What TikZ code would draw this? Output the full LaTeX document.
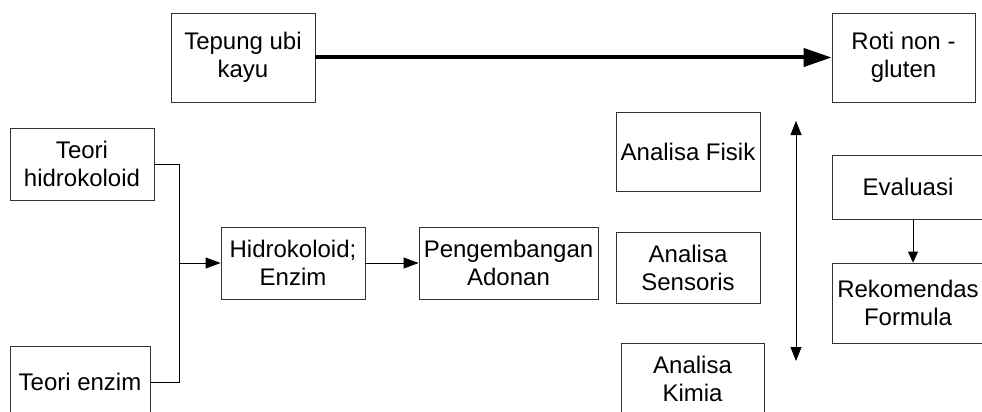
\documentclass[tikz,border=0pt]{standalone}
\usepackage{fontspec}
\setmainfont{Liberation Sans}
\usetikzlibrary{arrows.meta}

\begin{document}
\begin{tikzpicture}[x=1pt,y=-1pt]

\tikzset{box/.style = {shape=rectangle,draw=black!80,line width=0.8pt,align=center,inner sep=0pt,font=\fontsize{24}{28}\selectfont}}
\tikzset{edge/.style = {-{Triangle[length=15pt,width=11pt]},line width=0.8pt}}
\useasboundingbox (0,0) rectangle (982,412);
%boxes
\node[box, minimum width=144, minimum height=89] (tepung) at (243,57.5) {Tepung ubi\\kayu};
\node[box, minimum width=143, minimum height=89] (roti) at (903.5,57.5) {Roti non -\\gluten};
\node[box, minimum width=144, minimum height=72] (teorihk) at (82,164) {Teori\\hidrokoloid};
\node[box, minimum width=140, minimum height=72] (teorienz) at (80,382) {Teori enzim};
\node[box, minimum width=144, minimum height=72] (hidro) at (293,263) {Hidrokoloid;\\Enzim};
\node[box, minimum width=179, minimum height=72] (kembang) at (508.5,263) {Pengembangan\\Adonan};
\node[box, minimum width=144, minimum height=79] (fisik) at (688,151.5) {Analisa Fisik};
\node[box, minimum width=144, minimum height=71] (sensoris) at (688,267.5) {Analisa\\Sensoris};
\node[box, minimum width=143, minimum height=72] (kimia) at (692.5,379) {Analisa\\Kimia};
\node[box, minimum width=152, minimum height=64] (evaluasi) at (908,187) {Evaluasi};
\node[box, minimum width=152, minimum height=80] (rekom) at (908,303) {Rekomendas\\Formula};
\coordinate (gabung) at (179,263);
\coordinate (atas) at (796,121);
\coordinate (bawah) at (796,361);
%edges
\draw [line width=4pt, -{Triangle[length=28pt,width=18pt]}] (tepung) -- (roti);
\draw [line width=0.8pt] (teorihk.east) -| (gabung);
\draw [line width=0.8pt] (teorienz.east) -| (gabung);
\draw [edge] (gabung) -- (hidro);
\draw [edge] (hidro) -- (kembang);
\draw [edge, {Triangle[length=14pt,width=11pt]}-{Triangle[length=14pt,width=11pt]}] (atas) -- (bawah);
\draw [edge, -{Triangle[length=11pt,width=10pt]}] ([xshift=5pt]evaluasi.south) -- ([xshift=5pt]rekom.north);

\end{tikzpicture}
\end{document}
